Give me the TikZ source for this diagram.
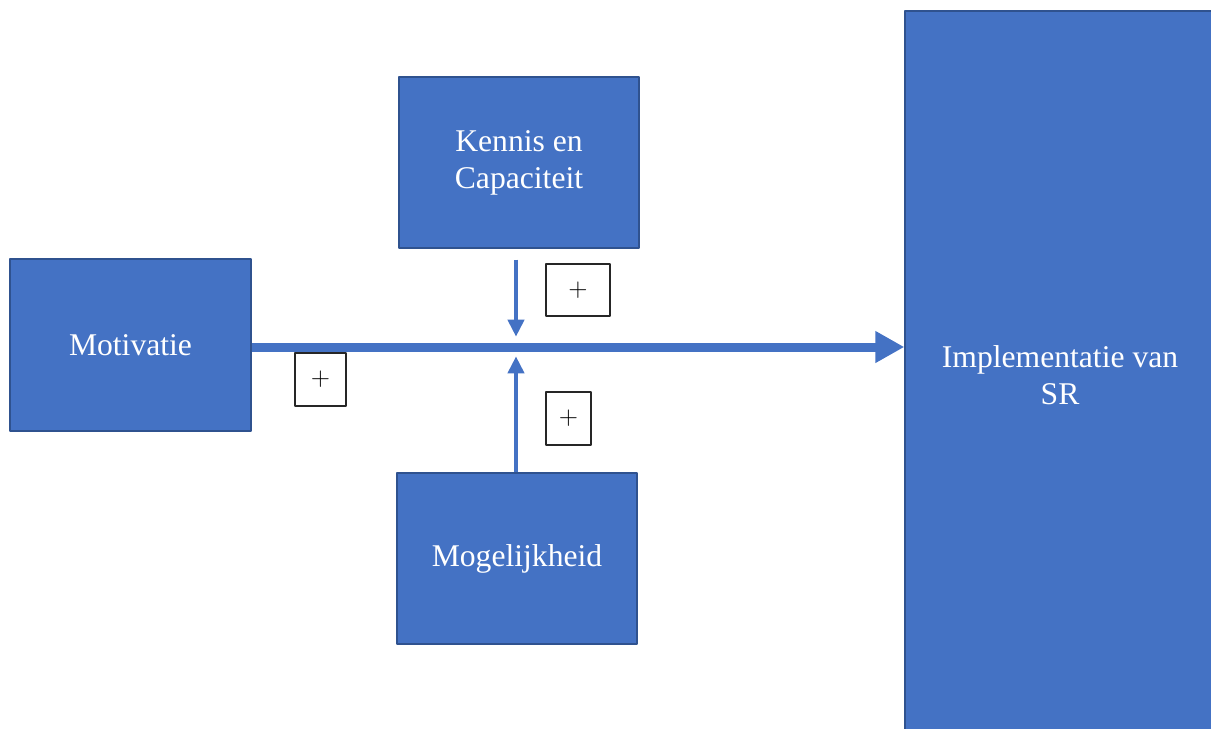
\documentclass[tikz,border=0pt]{standalone}
\usepackage{fontspec}
\setmainfont{Liberation Serif}
\usetikzlibrary{arrows.meta}

\definecolor{boxblue}{HTML}{4472C4}
\definecolor{boxedge}{HTML}{2F528F}

\begin{document}
\begin{tikzpicture}[
    x = 0.02cm, y = -0.02cm,
    line join=round,
    factor/.style = {draw=boxedge, line width=0.8pt, fill=boxblue, text=white,
        align=center, font=\fontsize{18}{21}\selectfont, inner sep=0pt},
    plusbox/.style = {draw=black!85, line width=0.6pt, fill=white, inner sep=0pt,
        font=\fontsize{14}{14}\selectfont},
    mainarrow/.style = {boxblue, line width=0.18cm, -{Triangle[length=0.58cm, width=0.6cm]}},
    sidearrow/.style = {boxblue, line width=0.08cm, -{Triangle[length=0.34cm, width=0.32cm]}}
]

\useasboundingbox (0, 0) rectangle (1211, 728);

\node[factor, minimum width=4.82cm, minimum height=3.44cm] (motivatie) at (130.5, 345) {Motivatie};
\node[factor, minimum width=4.8cm, minimum height=3.42cm] (kennis) at (519, 162.5) {Kennis en\\Capaciteit};
\node[factor, minimum width=4.8cm, minimum height=3.42cm] (mogelijkheid) at (517, 558.5) {Mogelijkheid};
\node[factor, minimum width=6.2cm, minimum height=14.56cm] (implementatie) at (1060, 375) {Implementatie van\\SR};

\coordinate (junction) at (516, 347);

\draw[mainarrow] (motivatie.east |- junction) -- (implementatie.west |- junction);
\draw[sidearrow] (kennis.south -| junction) ++ (0, 11) -- ++ (0, 77);
\draw[sidearrow] (mogelijkheid.north -| junction) -- ++ (0, -116);

\node[plusbox, minimum width=1.28cm, minimum height=1.04cm] (plus1) at (578, 290) {$+$};
\node[plusbox, minimum width=1.02cm, minimum height=1.06cm] (plus2) at (320.5, 379.5) {$+$};
\node[plusbox, minimum width=0.9cm, minimum height=1.06cm] (plus3) at (568.5, 418.5) {$+$};

\end{tikzpicture}
\end{document}
